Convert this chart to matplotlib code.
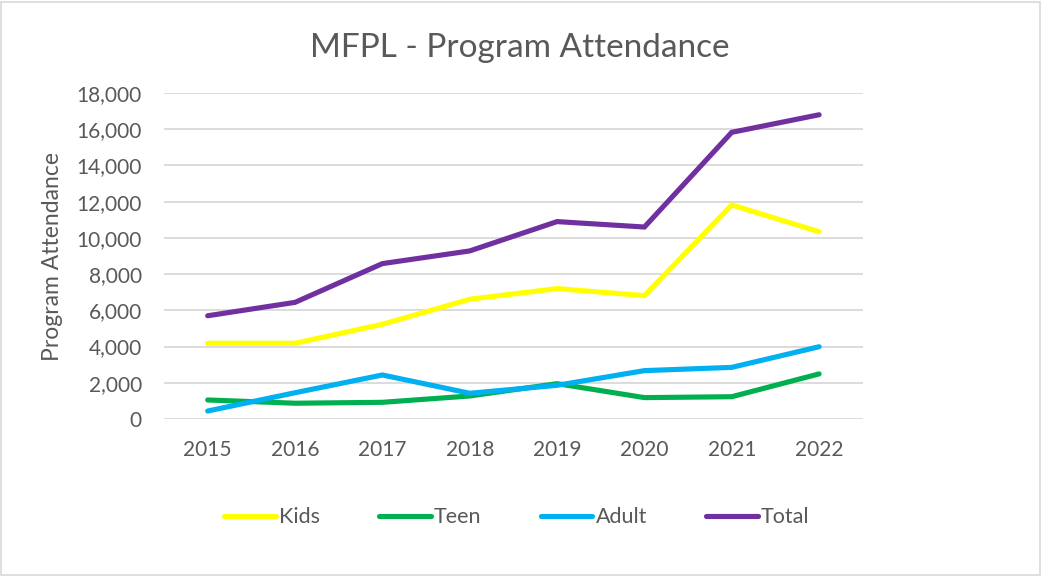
import matplotlib.pyplot as plt
from matplotlib.patches import Rectangle
from matplotlib.ticker import FuncFormatter

years = [2015, 2016, 2017, 2018, 2019, 2020, 2021, 2022]
kids = [4180, 4180, 5230, 6610, 7200, 6810, 11820, 10340]
teen = [1050, 870, 920, 1270, 1950, 1180, 1230, 2490]
adult = [440, 1450, 2430, 1420, 1860, 2670, 2850, 3990]
total = [5700, 6440, 8580, 9280, 10900, 10600, 15830, 16800]

series = [("Kids", kids, "#ffff00"), ("Teen", teen, "#00b050"),
          ("Adult", adult, "#00b0f0"), ("Total", total, "#7030a0")]

plt.rcParams['font.family'] = ['Lato', 'DejaVu Sans']
txt = "#595959"

fig = plt.figure(figsize=(10.42, 5.76), dpi=100)
ax = fig.add_axes([0.1574, 0.2726, 0.6706, 0.5659])

x = list(range(len(years)))
for name, vals, col in series:
    ax.plot(x, vals, color=col, lw=3.7, label=name, solid_capstyle='round',
            solid_joinstyle='miter')

ax.set_ylim(0, 18000)
ax.set_yticks(range(0, 18001, 2000))
ax.yaxis.set_major_formatter(FuncFormatter(lambda v, p: f"{int(v):,}"))
ax.set_xlim(-0.5, len(years) - 0.5)
ax.set_xticks(x)
ax.set_xticklabels([str(y) for y in years])
ax.grid(axis='y', color="#d9d9d9", lw=1.3)
ax.set_axisbelow(True)
for s in ax.spines.values():
    s.set_visible(False)
ax.tick_params(length=0, labelsize=15, colors=txt)
ax.tick_params(axis='y', pad=16)
ax.tick_params(axis='x', pad=15)

ax.set_ylabel("Program Attendance", fontsize=16.5, color=txt, va='center')
ax.yaxis.set_label_coords(-0.160, 0.5)
fig.text(0.4985, 0.916, "MFPL - Program Attendance", ha='center', va='center',
         fontsize=24, color=txt)

leg = fig.legend(loc='center', bbox_to_anchor=(0.496, 0.102), ncol=4,
                 frameon=False, fontsize=15.5, handlelength=2.4,
                 handletextpad=0.15, columnspacing=2.75)
for t in leg.get_texts():
    t.set_color(txt)

fig.patches.append(Rectangle((0.001, 0.002), 0.997, 0.995, transform=fig.transFigure,
                             fill=False, edgecolor="#d9d9d9", lw=1.2))

fig.savefig("out.png", dpi=100, facecolor="white")
